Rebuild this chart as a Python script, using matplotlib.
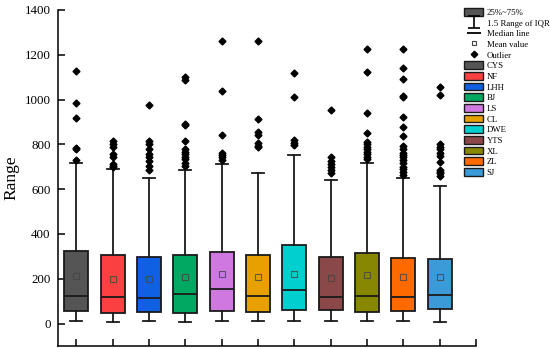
import matplotlib
matplotlib.use('Agg')
import matplotlib.pyplot as plt
from matplotlib.lines import Line2D
from matplotlib.patches import Patch
from matplotlib.path import Path

plt.rcParams['font.family'] = ['Liberation Serif', 'DejaVu Serif']

# Site names and box statistics
names = ['CYS', 'NF', 'LHH', 'BJ', 'LS', 'CL', 'DWE', 'YTS', 'XL', 'ZL', 'SJ']
colors = ['#555555', '#fa4040', '#0f60e2', '#00a862', '#cf78e0', '#e6a100',
          '#00cfcf', '#8a4848', '#878700', '#ff6a00', '#3b9ad8']
q1 = [56, 49, 53, 49, 56, 52, 62, 61, 50, 55, 67]
med = [125, 119, 113, 131, 154, 125, 149, 120, 123, 119, 128]
q3 = [324, 306, 299, 305, 320, 306, 351, 297, 317, 293, 288]
mean = [212, 200, 200, 209, 223, 207, 223, 205, 216, 207, 207]
whislo = [12, 8, 12, 8, 12, 12, 12, 12, 12, 12, 9]
whishi = [717, 690, 650, 686, 714, 674, 751, 642, 718, 651, 616]
outliers = [
    [1127, 983, 919, 785, 779, 732],
    [816, 802, 787, 757, 742, 712, 705, 698],
    [976, 816, 802, 780, 757, 742, 727, 705, 686],
    [1099, 1087, 891, 886, 816, 779, 767, 757, 745, 733, 718, 703],
    [1263, 1037, 842, 763, 753, 742, 730],
    [1263, 912, 857, 842, 805, 794, 787],
    [1117, 1010, 820, 808, 797],
    [953, 742, 727, 712, 700, 686, 674],
    [1227, 1124, 940, 851, 812, 802, 790, 779, 767, 757, 745, 733],
    [1227, 1141, 1090, 1015, 1010, 921, 878, 839, 793, 778, 763, 753, 742,
     730, 716, 700, 689, 678, 663],
    [1055, 1020, 802, 790, 778, 763, 748, 723, 686, 678, 671, 660],
]

stats = []
for i in range(len(names)):
    stats.append(dict(label=names[i], q1=q1[i], med=med[i], q3=q3[i],
                      mean=mean[i], whislo=whislo[i], whishi=whishi[i],
                      fliers=outliers[i]))

fig = plt.figure(figsize=(5.5, 3.49), dpi=100)
ax = fig.add_axes([58.3 / 550, 3 / 349, (476 - 58.3) / 550, 336 / 349])

pos = list(range(1, len(names) + 1))
bp = ax.bxp(stats, positions=pos, widths=0.66, capwidths=0.33,
            showmeans=True, patch_artist=True,
            boxprops=dict(edgecolor='#1a1a1a', linewidth=1.3),
            whiskerprops=dict(color='#1a1a1a', linewidth=1.3),
            capprops=dict(color='#1a1a1a', linewidth=1.3),
            medianprops=dict(color='#1a1a1a', linewidth=1.3),
            meanprops=dict(marker='s', markersize=3.8, markerfacecolor='none',
                           markeredgecolor='#444444', markeredgewidth=0.8, alpha=0.8),
            flierprops=dict(marker='D', markersize=3.5, markerfacecolor='black',
                            markeredgecolor='black'))
for box, c in zip(bp['boxes'], colors):
    box.set_facecolor(c)

ax.set_xlim(0.5, 12)
ax.set_ylim(-100, 1400)
ax.set_xticks(range(1, 13))
ax.set_xticklabels([])
ax.set_yticks(range(0, 1401, 200))
ax.tick_params(axis='both', direction='in', length=5, width=1.1, labelsize=9.3)
ax.tick_params(axis='y', pad=5.5)
for s in ['top', 'right']:
    ax.spines[s].set_visible(False)
for s in ['left', 'bottom']:
    ax.spines[s].set_linewidth(1.1)

ax.set_ylabel('Range', fontsize=12.5)
ax.yaxis.set_label_coords(-0.094, 0.5)

# legend
ibeam = Path([(-1, -1), (1, -1), (0, -1), (0, 1), (-1, 1), (1, 1)],
             [Path.MOVETO, Path.LINETO, Path.MOVETO, Path.LINETO, Path.MOVETO, Path.LINETO])
handles = [
    Patch(facecolor='#555555', edgecolor='#1a1a1a', linewidth=1.0),
    Line2D([], [], marker=ibeam, linestyle='none', color='black',
           markerfacecolor='none', markersize=8, markeredgewidth=1.2),
    Line2D([], [], marker='_', linestyle='none', color='black',
           markersize=10, markeredgewidth=1.3),
    Line2D([], [], marker='s', linestyle='none', markersize=3.5,
           markerfacecolor='none', markeredgecolor='#444444', markeredgewidth=0.8),
    Line2D([], [], marker='D', linestyle='none', markersize=3.3, color='black'),
]
labels = ['25%~75%', '1.5 Range of IQR', 'Median line', 'Mean value', 'Outlier']
for n, c in zip(names, colors):
    handles.append(Patch(facecolor=c, edgecolor='#1a1a1a', linewidth=1.0))
    labels.append(n)

leg = ax.legend(handles, labels, loc='upper left',
                bbox_to_anchor=(464 / 550, (349 - 8) / 349),
                bbox_transform=fig.transFigure, frameon=False,
                fontsize=6.3, handlelength=2.2, handleheight=1.0,
                handletextpad=0.4, labelspacing=0.2, borderpad=0,
                borderaxespad=0)

fig.savefig('out.png', dpi=100)
